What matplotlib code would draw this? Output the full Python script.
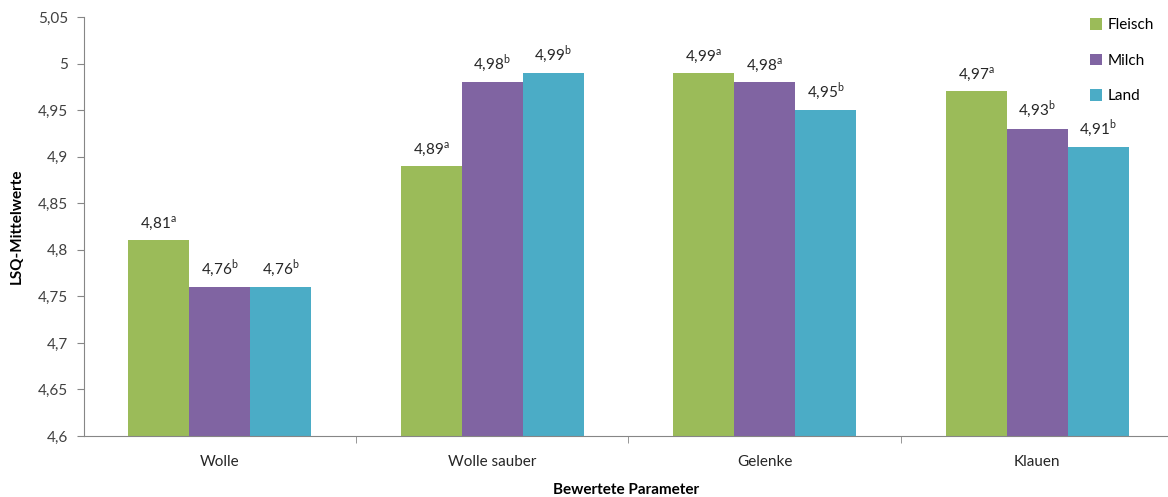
import numpy as np
import matplotlib
matplotlib.use('Agg')
import matplotlib.pyplot as plt

plt.rcParams['font.family'] = ['Lato', 'DejaVu Sans']
plt.rcParams['mathtext.fontset'] = 'custom'
plt.rcParams['mathtext.rm'] = 'Lato'

categories = ['Wolle', 'Wolle sauber', 'Gelenke', 'Klauen']
groups = ['Fleisch', 'Milch', 'Land']
fleisch = [4.81, 4.89, 4.99, 4.97]
milch = [4.76, 4.98, 4.98, 4.93]
land = [4.76, 4.99, 4.95, 4.91]
letters_fleisch = ['a', 'a', 'a', 'a']
letters_milch = ['b', 'b', 'a', 'b']
letters_land = ['b', 'b', 'b', 'b']
yticks = [4.6, 4.65, 4.7, 4.75, 4.8, 4.85, 4.9, 4.95, 5.0, 5.05]

colours = ['#9BBB59', '#8064A2', '#4BACC6']
axis_grey = '#868686'

fig = plt.figure(figsize=(11.68, 4.97), dpi=100)
ax = fig.add_axes([0.0715, 0.1227, 0.9285, 0.8431])

x = np.arange(len(categories))
w = 0.224
series = [fleisch, milch, land]
letters = [letters_fleisch, letters_milch, letters_land]
for i, (vals, lets) in enumerate(zip(series, letters)):
    pos = x + (i - 1) * w
    ax.bar(pos, np.array(vals) - 4.6, width=w, bottom=4.6,
           color=colours[i], label=groups[i], zorder=2)
    for px, v, l in zip(pos, vals, lets):
        txt = ('%.2f' % v).replace('.', ',') + r'$^{\mathregular{%s}}$' % l
        ax.annotate(txt, (px, v), xytext=(0, 6), textcoords='offset points',
                    ha='center', va='bottom', fontsize=11, color='#262626')

ax.set_ylim(4.6, 5.05)
ax.set_xlim(-0.5, 3.48)
ax.set_yticks(yticks)
ax.set_yticklabels([('%g' % t).replace('.', ',') for t in yticks],
                   fontsize=11, color='#404040')
ax.set_xticks(x)
ax.set_xticklabels(categories, fontsize=11, color='#262626')
ax.set_xticks(x[:-1] + 0.5, minor=True)
ax.tick_params(axis='x', which='major', length=0, pad=14)
ax.tick_params(axis='x', which='minor', length=5, color=axis_grey)
ax.tick_params(axis='y', length=5, color=axis_grey, pad=6)

for s in ['top', 'right']:
    ax.spines[s].set_visible(False)
for s in ['left', 'bottom']:
    ax.spines[s].set_color(axis_grey)

ax.set_ylabel('LSQ-Mittelwerte', fontsize=11, fontweight='bold', labelpad=10)
ax.set_xlabel('Bewertete Parameter', fontsize=11, fontweight='bold', labelpad=10)

leg = ax.legend(loc='upper right', bbox_to_anchor=(1.0, 1.03), frameon=False,
                fontsize=11, handlelength=0.8, handleheight=0.8,
                handletextpad=0.4, labelspacing=1.4)

fig.savefig('out.png', dpi=100)
